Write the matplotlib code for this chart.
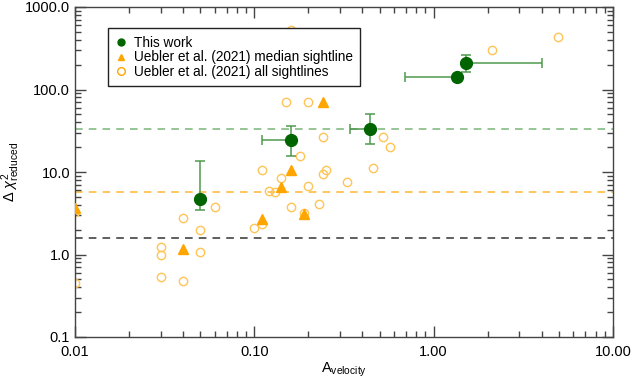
import matplotlib
matplotlib.use('Agg')
import matplotlib.pyplot as plt
from matplotlib.lines import Line2D
import numpy as np

plt.rcParams['font.family'] = ['Liberation Sans', 'DejaVu Sans']
plt.rcParams['mathtext.fontset'] = 'custom'
plt.rcParams['mathtext.rm'] = 'Liberation Sans'
plt.rcParams['mathtext.it'] = 'Liberation Sans:italic'

# This work
work_x = [0.05, 0.16, 0.44, 1.355, 1.52]
work_y = [4.67, 24.2, 33.5, 142.0, 208.0]
work_xerr_lo = [0.0, 0.049, 0.098, 0.66, 0.0]
work_xerr_hi = [0.0, 0.0, 0.0, 0.0, 2.49]
work_yerr_lo = [1.21, 8.6, 11.7, 0.0, 45.0]
work_yerr_hi = [9.0, 12.2, 16.5, 0.0, 52.0]

# Uebler et al. (2021) median sightline
med_x = [0.01, 0.04, 0.11, 0.14, 0.16, 0.19, 0.24]
med_y = [3.63, 1.16, 2.67, 6.63, 10.6, 3.10, 70.5]

# Uebler et al. (2021) all sightlines
all_x = [0.01, 0.01, 0.03, 0.03, 0.03, 0.04, 0.04, 0.05, 0.05, 0.06,
         0.10, 0.11, 0.11, 0.12, 0.13, 0.14, 0.15, 0.16, 0.16, 0.18,
         0.19, 0.20, 0.20, 0.23, 0.24, 0.24, 0.25, 0.33, 0.46, 0.52,
         0.57, 2.11, 4.92]
all_y = [3.25, 0.455, 1.22, 1.0, 0.533, 2.75, 0.477, 1.96, 1.06, 3.73,
         2.07, 2.32, 10.5, 5.93, 5.67, 8.39, 71.0, 533.0, 3.79, 15.6,
         3.16, 71.0, 6.83, 4.05, 26.8, 9.46, 10.6, 7.63, 11.3, 26.8,
         20.1, 304.0, 436.0]

# reference levels
level_work = 33.5
level_uebler = 5.73
level_black = 1.57

x_ticks = [0.01, 0.1, 1.0, 10.0]
x_labels = ['0.01', '0.10', '1.00', '10.00']
y_ticks = [0.1, 1.0, 10.0, 100.0, 1000.0]
y_labels = ['0.1', '1.0', '10.0', '100.0', '1000.0']

dark_green = '#006400'
bar_green = '#4f9a4f'
orange = '#FFA500'
pale_orange = '#FFC456'

fig = plt.figure(figsize=(6.34, 3.8), dpi=100)
ax = fig.add_axes([75/634, 1-337/380, (613-75)/634, (337-7)/380])
ax.set_xscale('log')
ax.set_yscale('log')
ax.set_xlim(0.01, 10)
ax.set_ylim(0.1, 1000)

ax.axhline(level_work, color='#7bb57b', ls=(0, (5, 4)), lw=1.1, zorder=1)
ax.axhline(level_uebler, color='#FFB733', ls=(0, (5, 4)), lw=1.1, zorder=1)
ax.axhline(level_black, color='#333333', ls=(0, (5, 4)), lw=1.1, zorder=1)

ax.plot(all_x, all_y, 'o', mfc='none', mec=pale_orange, mew=1.0, ms=6,
        zorder=2)
ax.plot(med_x, med_y, '^', color=orange, ms=6.5, zorder=3)

ax.errorbar(work_x, work_y,
            xerr=[work_xerr_lo, work_xerr_hi],
            yerr=[work_yerr_lo, work_yerr_hi],
            fmt='none', ecolor=bar_green, elinewidth=1.1, capsize=3.5,
            capthick=1.1, zorder=4)
ax.plot(work_x, work_y, 'o', color=dark_green, ms=8.5, zorder=5)

ax.set_xticks(x_ticks)
ax.set_xticklabels(x_labels)
ax.set_yticks(y_ticks)
ax.set_yticklabels(y_labels)
ax.tick_params(which='both', direction='in', top=True, right=True,
               colors='#444444', labelcolor='black', labelsize=10.5)
ax.tick_params(which='major', length=8, width=1)
ax.tick_params(which='minor', length=4.5, width=1)
ax.tick_params(axis='x', pad=6)
for s in ax.spines.values():
    s.set_color('#444444')
    s.set_linewidth(1)

ax.set_xlabel(r'A$_{\rm velocity}$', fontsize=10.5, labelpad=1)
ax.set_ylabel(r'$\Delta\ \chi^2_{\rm reduced}$', fontsize=10.5, labelpad=2)

handles = [
    Line2D([], [], ls='none', marker='o', color=dark_green, ms=5),
    Line2D([], [], ls='none', marker='^', color=orange, ms=5),
    Line2D([], [], ls='none', marker='o', mfc='none', mec=orange, ms=5.5),
]
labels = ['This work', 'Uebler et al. (2021) median sightline',
          'Uebler et al. (2021) all sightlines']
leg = ax.legend(handles, labels, loc='upper left',
                bbox_to_anchor=(0.061, 0.936), borderaxespad=0,
                fancybox=False, edgecolor='#222222', framealpha=1,
                fontsize=9.8, handlelength=0.8, handletextpad=0.55,
                labelspacing=0.05, borderpad=0.55)
leg.get_frame().set_linewidth(1)
leg.set_zorder(10)

fig.savefig('out.png', dpi=100)
